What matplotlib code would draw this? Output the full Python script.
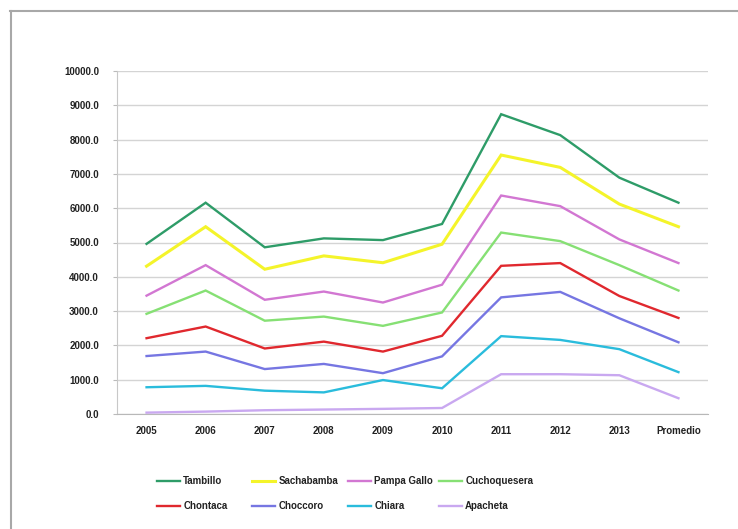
import matplotlib
matplotlib.use("Agg")
import matplotlib.pyplot as plt
from matplotlib.lines import Line2D

plt.rcParams['font.family'] = ['Liberation Sans', 'DejaVu Sans']

categories = ["2005", "2006", "2007", "2008", "2009", "2010", "2011", "2012", "2013", "Promedio"]

tambillo = [4960, 6160, 4860, 5120, 5070, 5540, 8740, 8130, 6890, 6160]
sachabamba = [4310, 5460, 4220, 4610, 4410, 4950, 7550, 7190, 6120, 5460]
pampa_gallo = [3450, 4340, 3330, 3570, 3250, 3770, 6370, 6060, 5090, 4400]
cuchoquesera = [2920, 3600, 2720, 2840, 2570, 2960, 5290, 5040, 4340, 3600]
chontaca = [2210, 2550, 1910, 2110, 1820, 2280, 4320, 4400, 3440, 2800]
choccoro = [1690, 1820, 1310, 1460, 1190, 1680, 3400, 3560, 2790, 2090]
chiara = [780, 820, 680, 630, 990, 750, 2270, 2160, 1890, 1220]
apacheta = [40, 70, 110, 130, 150, 175, 1160, 1160, 1130, 460]

series_names = ["Tambillo", "Sachabamba", "Pampa Gallo", "Cuchoquesera",
                "Chontaca", "Choccoro", "Chiara", "Apacheta"]
series_values = [tambillo, sachabamba, pampa_gallo, cuchoquesera,
                 chontaca, choccoro, chiara, apacheta]
series_colors = ["#2E9C68", "#F4F42A", "#D277D2", "#86E074",
                 "#E0282E", "#7676E2", "#2ABCDC", "#C9A8F0"]

y_ticks = [0, 1000, 2000, 3000, 4000, 5000, 6000, 7000, 8000, 9000, 10000]

fig = plt.figure(figsize=(7.38, 5.29), dpi=100)
ax = fig.add_axes([117 / 738, 1 - 414 / 529, (708 - 117) / 738, (414 - 71) / 529])

x = list(range(len(categories)))
lines = []
for name, vals, col in zip(series_names, series_values, series_colors):
    lw = 2.2 if name == "Sachabamba" else 1.7
    ln, = ax.plot(x, vals, color=col, lw=lw, label=name, solid_joinstyle='miter')
    lines.append(ln)

ax.set_xlim(-0.5, len(categories) - 0.5)
ax.set_ylim(0, 10000)
ax.set_yticks(y_ticks)
ax.set_yticklabels([f"{v:.1f}" for v in y_ticks], fontsize=7, fontweight='bold', color='#222222')
ax.set_xticks(x)
ax.set_xticklabels(categories, fontsize=7, fontweight='bold', color='#222222')
ax.tick_params(axis='x', length=0, pad=9)
ax.tick_params(axis='y', length=3, color='#bbbbbb', pad=10)
ax.grid(axis='y', color='#d4d4d4', lw=1)
ax.set_axisbelow(True)
for side in ('top', 'right'):
    ax.spines[side].set_visible(False)
ax.spines['left'].set_color('#c8c8c8')
ax.spines['bottom'].set_color('#b8b8b8')

# legend: four columns of two entries each
col_x = [157, 252, 348, 439]
for c in range(4):
    hs = [lines[c], lines[c + 4]]
    leg = fig.legend(handles=hs, labels=[series_names[c], series_names[c + 4]],
                     loc='upper left', bbox_to_anchor=(col_x[c] / 738, 1 - 476 / 529),
                     frameon=False, borderpad=0, borderaxespad=0,
                     handlelength=2.4, handletextpad=0.3, labelspacing=1.55,
                     prop={'size': 7, 'weight': 'bold'})
    for t in leg.get_texts():
        t.set_color('#222222')

# outer frame (top and left edges)
fig.add_artist(Line2D([10 / 738, 1.0], [1 - 10.5 / 529] * 2, color='#a8a8a8', lw=1.5,
                      transform=fig.transFigure))
fig.add_artist(Line2D([10.5 / 738] * 2, [0.0, 1 - 10.5 / 529], color='#a8a8a8', lw=1.5,
                      transform=fig.transFigure))

fig.savefig("out.png", dpi=100)
